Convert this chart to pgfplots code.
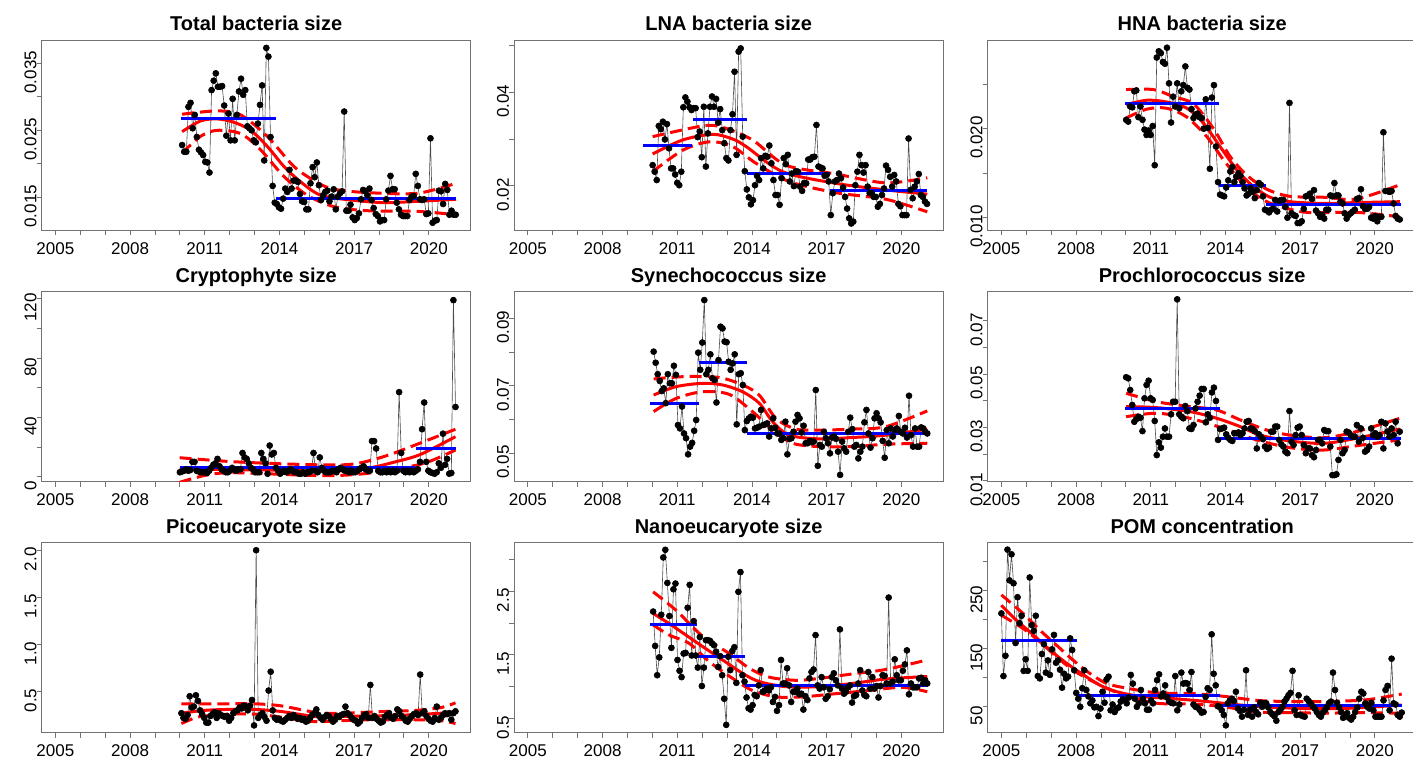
\documentclass[border=0pt]{standalone}
\usepackage{pgfplots}
\pgfplotsset{compat=1.18}
\usepackage{pgfplotstable}
\usepackage{fontspec}
\setmainfont{Liberation Sans}

\pgfplotsset{
  rp/.style={width=429pt, height=190pt, scale only axis, anchor=south west,
    xmin=2004.45, xmax=2021.68,
    axis line style={black!55, line width=0.9pt},
    tick style={black!55, line width=0.9pt},
    major tick length=5pt, tick align=outside, tick pos=left,
    xtick={2005,...,2020},
    xticklabels={2005,,,2008,,,2011,,,2014,,,2017,,,2020},
    ticklabel style={font=\fontsize{17}{17}\selectfont, inner sep=0pt},
    xticklabel style={anchor=north, yshift=-7pt},
    yticklabel style={rotate=90, anchor=south, xshift=-9pt},
    scaled ticks=false,
    title style={font=\bfseries\fontsize{20}{20}\selectfont, at={(0.5,1)}, anchor=base, yshift=3pt, inner sep=0pt}},
  pts/.style={black!70, line width=0.6pt, mark=*, mark size=3pt, mark options={black, fill=black, solid}},
  fit/.style={red, line width=3pt, smooth},
  ci/.style={red, line width=3pt, smooth, dash pattern=on 12pt off 6pt},
  seg/.style={blue, line width=3pt},
}

% monthly series, one value per row
\pgfplotstableread[row sep=\\]{y\\
0.0228\\0.0218\\0.0218\\0.0285\\0.0291\\0.0253\\0.0273\\0.0240\\0.0221\\0.0217\\0.0213\\0.0203\\0.0202\\0.0187\\0.0310\\0.0324\\0.0335\\0.0315\\0.0315\\0.0316\\0.0287\\0.0242\\0.0275\\0.0235\\0.0297\\0.0235\\0.0273\\0.0308\\0.0327\\0.0303\\0.0310\\0.0256\\0.0253\\0.0250\\0.0235\\0.0232\\0.0260\\0.0288\\0.0317\\0.0205\\0.0373\\0.0360\\0.0240\\0.0167\\0.0142\\0.0140\\0.0135\\0.0133\\0.0148\\0.0163\\0.0158\\0.0191\\0.0163\\0.0175\\0.0175\\0.0173\\0.0155\\0.0144\\0.0143\\0.0132\\0.0132\\0.0171\\0.0195\\0.0180\\0.0202\\0.0168\\0.0146\\0.0153\\0.0158\\0.0160\\0.0144\\0.0151\\0.0162\\0.0132\\0.0151\\0.0156\\0.0159\\0.0278\\0.0130\\0.0130\\0.0139\\0.0120\\0.0116\\0.0119\\0.0126\\0.0147\\0.0161\\0.0159\\0.0153\\0.0163\\0.0146\\0.0134\\0.0125\\0.0122\\0.0114\\0.0116\\0.0116\\0.0147\\0.0160\\0.0182\\0.0162\\0.0162\\0.0142\\0.0132\\0.0124\\0.0122\\0.0122\\0.0122\\0.0146\\0.0151\\0.0152\\0.0185\\0.0167\\0.0147\\0.0146\\0.0147\\0.0125\\0.0126\\0.0238\\0.0112\\0.0115\\0.0116\\0.0160\\0.0159\\0.0140\\0.0170\\0.0161\\0.0124\\0.0130\\0.0124\\0.0124\\
}\tA
\pgfplotstableread[row sep=\\]{y\\
0.0244\\0.0230\\0.0212\\0.0328\\0.0321\\0.0337\\0.0299\\0.0332\\0.0280\\0.0237\\0.0237\\0.0224\\0.0206\\0.0201\\0.0230\\0.0368\\0.0389\\0.0380\\0.0368\\0.0362\\0.0366\\0.0366\\0.0304\\0.0316\\0.0261\\0.0369\\0.0241\\0.0312\\0.0369\\0.0391\\0.0369\\0.0386\\0.0335\\0.0364\\0.0319\\0.0291\\0.0259\\0.0254\\0.0319\\0.0353\\0.0444\\0.0266\\0.0487\\0.0494\\0.0305\\0.0231\\0.0192\\0.0175\\0.0160\\0.0169\\0.0201\\0.0221\\0.0212\\0.0259\\0.0237\\0.0264\\0.0262\\0.0286\\0.0248\\0.0212\\0.0180\\0.0180\\0.0159\\0.0216\\0.0259\\0.0246\\0.0266\\0.0209\\0.0226\\0.0199\\0.0231\\0.0230\\0.0198\\0.0189\\0.0206\\0.0205\\0.0256\\0.0256\\0.0261\\0.0262\\0.0330\\0.0241\\0.0239\\0.0237\\0.0221\\0.0223\\0.0209\\0.0137\\0.0184\\0.0209\\0.0212\\0.0226\\0.0216\\0.0196\\0.0176\\0.0151\\0.0130\\0.0119\\0.0123\\0.0201\\0.0230\\0.0266\\0.0244\\0.0228\\0.0244\\0.0198\\0.0184\\0.0184\\0.0176\\0.0176\\0.0155\\0.0161\\0.0180\\0.0194\\0.0243\\0.0234\\0.0219\\0.0198\\0.0223\\0.0209\\0.0161\\0.0156\\0.0137\\0.0137\\0.0137\\0.0301\\0.0191\\0.0173\\0.0198\\0.0209\\0.0225\\0.0180\\0.0176\\0.0166\\0.0161\\
}\tB
\pgfplotstableread[row sep=\\]{y\\
0.0210\\0.0208\\0.0225\\0.0224\\0.0242\\0.0243\\0.0213\\0.0225\\0.0210\\0.0199\\0.0193\\0.0198\\0.0193\\0.0203\\0.0159\\0.0280\\0.0287\\0.0285\\0.0275\\0.0273\\0.0291\\0.0251\\0.0207\\0.0236\\0.0225\\0.0251\\0.0223\\0.0242\\0.0249\\0.0270\\0.0246\\0.0244\\0.0222\\0.0212\\0.0216\\0.0217\\0.0213\\0.0212\\0.0200\\0.0233\\0.0201\\0.0155\\0.0235\\0.0249\\0.0180\\0.0140\\0.0126\\0.0125\\0.0124\\0.0134\\0.0142\\0.0152\\0.0157\\0.0140\\0.0146\\0.0150\\0.0147\\0.0140\\0.0133\\0.0125\\0.0127\\0.0133\\0.0129\\0.0122\\0.0131\\0.0139\\0.0137\\0.0124\\0.0109\\0.0108\\0.0106\\0.0109\\0.0110\\0.0120\\0.0107\\0.0119\\0.0120\\0.0120\\0.0112\\0.0100\\0.0229\\0.0105\\0.0103\\0.0102\\0.0094\\0.0094\\0.0096\\0.0110\\0.0124\\0.0125\\0.0127\\0.0121\\0.0131\\0.0108\\0.0105\\0.0101\\0.0103\\0.0099\\0.0109\\0.0109\\0.0125\\0.0124\\0.0139\\0.0125\\0.0125\\0.0118\\0.0116\\0.0105\\0.0099\\0.0103\\0.0105\\0.0107\\0.0109\\0.0121\\0.0122\\0.0132\\0.0113\\0.0110\\0.0110\\0.0112\\0.0100\\0.0099\\0.0102\\0.0096\\0.0101\\0.0101\\0.0196\\0.0130\\0.0130\\0.0129\\0.0130\\0.0116\\0.0102\\0.0099\\0.0098\\
}\tC
\pgfplotstableread[row sep=\\]{y\\
3\\3.5\\4\\5\\4\\4.5\\10\\10\\4\\3.5\\3\\3\\
3\\2.5\\4\\6\\8\\9\\12\\7\\5\\4\\3\\3\\
4\\6\\5\\4\\5\\5\\16\\13\\12\\9\\6\\5\\
3\\3\\3\\16\\12\\9\\2\\21\\15\\16\\6\\4\\
2\\3\\4\\3\\4\\5\\4\\3\\3\\2\\2\\3\\
2\\3\\3\\4\\16\\4\\3\\13\\6\\4\\3\\3\\
3\\4\\4\\3\\5\\6\\5\\4\\4\\3\\4\\3\\
3\\4\\5\\6\\7\\5\\4\\4\\24\\24\\19\\4\\
3\\3\\4\\3\\4\\3\\4\\3\\4\\57\\16\\4\\
3\\4\\3\\4\\3\\4\\5\\10\\32\\50\\10\\4\\
3\\2.5\\2\\3\\9\\6\\29\\8\\12\\2\\2.5\\119\\
47\\
}\tD
\pgfplotstableread[row sep=\\]{y\\
0.0801\\0.0768\\0.0734\\0.0714\\0.0684\\0.0692\\0.0648\\0.0734\\0.0707\\0.0707\\0.0759\\0.0732\\0.0583\\0.0573\\0.0638\\0.0558\\0.0544\\0.0496\\0.0519\\0.0530\\0.0566\\0.0598\\0.0798\\0.0747\\0.0828\\0.0954\\0.0734\\0.0747\\0.0793\\0.0722\\0.0717\\0.0650\\0.0776\\0.0875\\0.0870\\0.0831\\0.0829\\0.0771\\0.0747\\0.0766\\0.0793\\0.0585\\0.0734\\0.0737\\0.0702\\0.0568\\0.0595\\0.0603\\0.0608\\0.0605\\0.0573\\0.0575\\0.0578\\0.0628\\0.0583\\0.0585\\0.0588\\0.0549\\0.0573\\0.0603\\0.0575\\0.0558\\0.0558\\0.0539\\0.0544\\0.0593\\0.0496\\0.0542\\0.0544\\0.0563\\0.0593\\0.0613\\0.0603\\0.0561\\0.0581\\0.0529\\0.0529\\0.0536\\0.0532\\0.0534\\0.0687\\0.0462\\0.0524\\0.0519\\0.0563\\0.0544\\0.0529\\0.0499\\0.0546\\0.0549\\0.0542\\0.0504\\0.0435\\0.0534\\0.0514\\0.0504\\0.0563\\0.0605\\0.0571\\0.0519\\0.0524\\0.0484\\0.0504\\0.0519\\0.0591\\0.0628\\0.0558\\0.0516\\0.0544\\0.0603\\0.0618\\0.0603\\0.0591\\0.0536\\0.0486\\0.0568\\0.0529\\0.0573\\0.0549\\0.0568\\0.0573\\0.0610\\0.0563\\0.0558\\0.0575\\0.0546\\0.0670\\0.0553\\0.0519\\0.0573\\0.0519\\0.0519\\0.0576\\0.0573\\0.0563\\0.0558\\
}\tE
\pgfplotstableread[row sep=\\]{y\\
0.0488\\0.0484\\0.0440\\0.0384\\0.0321\\0.0331\\0.0340\\0.0336\\0.0286\\0.0409\\0.0459\\0.0475\\0.0409\\0.0403\\0.0324\\0.0196\\0.0244\\0.0224\\0.0265\\0.0296\\0.0265\\0.0265\\0.0349\\0.0396\\0.0396\\0.0780\\0.0349\\0.0340\\0.0334\\0.0380\\0.0361\\0.0296\\0.0294\\0.0309\\0.0371\\0.0396\\0.0419\\0.0444\\0.0444\\0.0319\\0.0349\\0.0336\\0.0431\\0.0449\\0.0399\\0.0253\\0.0294\\0.0296\\0.0299\\0.0274\\0.0261\\0.0253\\0.0249\\0.0278\\0.0278\\0.0281\\0.0271\\0.0278\\0.0296\\0.0321\\0.0324\\0.0296\\0.0294\\0.0286\\0.0221\\0.0274\\0.0265\\0.0256\\0.0228\\0.0219\\0.0224\\0.0284\\0.0284\\0.0303\\0.0303\\0.0253\\0.0236\\0.0228\\0.0209\\0.0203\\0.0361\\0.0246\\0.0234\\0.0271\\0.0299\\0.0303\\0.0271\\0.0234\\0.0203\\0.0221\\0.0221\\0.0196\\0.0188\\0.0215\\0.0253\\0.0253\\0.0240\\0.0290\\0.0286\\0.0286\\0.0228\\0.0121\\0.0121\\0.0124\\0.0178\\0.0253\\0.0203\\0.0215\\0.0284\\0.0281\\0.0271\\0.0265\\0.0265\\0.0309\\0.0246\\0.0296\\0.0261\\0.0209\\0.0215\\0.0228\\0.0296\\0.0271\\0.0278\\0.0265\\0.0271\\0.0321\\0.0221\\0.0315\\0.0284\\0.0265\\0.0296\\0.0271\\0.0321\\0.0240\\0.0284\\
}\tF
\pgfplotstableread[row sep=\\]{y\\
0.27\\0.22\\0.21\\0.25\\0.45\\0.33\\0.34\\0.46\\0.40\\0.30\\0.26\\0.22\\
0.17\\0.17\\0.24\\0.26\\0.28\\0.22\\0.27\\0.25\\0.24\\0.23\\0.24\\0.19\\
0.22\\0.27\\0.29\\0.30\\0.33\\0.32\\0.35\\0.34\\0.30\\0.35\\0.41\\0.14\\
2.0\\0.22\\0.25\\0.27\\0.23\\0.19\\0.51\\0.71\\0.30\\0.22\\0.20\\0.21\\
0.19\\0.18\\0.20\\0.22\\0.24\\0.22\\0.25\\0.23\\0.21\\0.22\\0.20\\0.21\\
0.18\\0.19\\0.22\\0.25\\0.27\\0.31\\0.25\\0.22\\0.20\\0.23\\0.25\\0.24\\
0.21\\0.18\\0.20\\0.24\\0.23\\0.25\\0.26\\0.34\\0.27\\0.25\\0.22\\0.20\\
0.19\\0.16\\0.18\\0.22\\0.25\\0.26\\0.22\\0.57\\0.22\\0.24\\0.21\\0.19\\
0.17\\0.18\\0.23\\0.25\\0.27\\0.22\\0.21\\0.24\\0.31\\0.29\\0.24\\0.22\\
0.19\\0.18\\0.21\\0.24\\0.26\\0.27\\0.25\\0.68\\0.27\\0.29\\0.24\\0.21\\
0.19\\0.18\\0.22\\0.34\\0.20\\0.22\\0.25\\0.27\\0.26\\0.27\\0.20\\0.27\\
0.29\\
}\tG
\pgfplotstableread[row sep=\\]{y\\
2.18\\1.64\\1.18\\1.46\\2.13\\3.03\\3.15\\2.63\\2.11\\1.61\\2.53\\2.62\\1.42\\1.25\\1.15\\1.52\\1.53\\2.24\\2.60\\1.49\\2.03\\1.49\\1.30\\1.78\\1.01\\1.30\\1.73\\1.73\\1.72\\1.68\\1.65\\1.55\\1.31\\1.48\\1.18\\0.81\\0.40\\1.47\\1.26\\1.56\\1.62\\1.06\\2.49\\2.80\\1.18\\1.08\\0.83\\0.66\\0.64\\0.71\\0.87\\0.85\\1.02\\1.26\\0.92\\0.94\\0.97\\0.94\\0.99\\0.76\\0.84\\0.62\\0.71\\1.42\\1.05\\1.05\\1.29\\1.02\\0.76\\0.92\\0.92\\0.97\\0.88\\0.89\\0.64\\0.85\\0.79\\1.13\\1.23\\1.27\\1.81\\1.02\\0.97\\1.15\\0.99\\0.81\\0.85\\0.96\\1.15\\1.21\\1.10\\1.02\\1.90\\0.97\\0.89\\0.92\\0.99\\1.02\\0.75\\0.85\\0.87\\1.05\\1.26\\0.94\\0.87\\0.85\\1.23\\0.97\\1.15\\0.97\\1.01\\0.83\\1.01\\1.18\\1.17\\1.05\\2.40\\1.05\\1.08\\1.43\\1.18\\1.10\\1.10\\1.25\\1.35\\1.57\\0.88\\1.05\\0.99\\0.99\\0.99\\1.13\\1.14\\1.05\\1.10\\1.05\\
}\tH
\pgfplotstableread[row sep=\\]{y\\
211\\103\\138\\321\\268\\313\\263\\160\\239\\194\\207\\112\\132\\112\\273\\191\\181\\207\\103\\99\\141\\158\\109\\130\\105\\149\\174\\126\\130\\114\\83\\107\\99\\102\\168\\148\\113\\74\\64\\50\\82\\113\\79\\68\\56\\61\\49\\50\\34\\47\\76\\57\\97\\102\\44\\54\\41\\47\\49\\59\\63\\61\\56\\66\\105\\90\\64\\50\\56\\79\\64\\56\\45\\45\\61\\56\\79\\96\\106\\68\\73\\87\\66\\59\\57\\56\\103\\44\\54\\109\\90\\91\\90\\79\\110\\54\\50\\49\\45\\40\\41\\67\\82\\79\\175\\107\\87\\51\\50\\44\\36\\18\\56\\61\\64\\60\\76\\47\\43\\33\\45\\113\\36\\45\\33\\49\\41\\37\\57\\50\\56\\56\\49\\41\\37\\34\\26\\41\\45\\50\\59\\64\\70\\74\\112\\44\\36\\70\\36\\34\\33\\64\\60\\56\\51\\47\\41\\36\\33\\40\\44\\49\\56\\59\\109\\79\\57\\49\\41\\31\\33\\39\\31\\28\\33\\41\\49\\64\\76\\73\\56\\50\\47\\57\\44\\33\\33\\33\\33\\61\\79\\86\\44\\133\\56\\54\\36\\33\\40\\
}\tI

% spacing of the monthly samples between first and last date
\newcommand\mkstep[4]{\pgfplotstablegetrowsof{#1}\pgfmathsetmacro#2{(#4-#3)/(\pgfplotsretval-1)}}
\mkstep{\tA}{\sA}{2010.09}{2021.08}
\mkstep{\tB}{\sB}{2010.01}{2021.03}
\mkstep{\tC}{\sC}{2010.01}{2021.00}
\mkstep{\tD}{\sD}{2010.00}{2021.07}
\mkstep{\tE}{\sE}{2010.05}{2021.04}
\mkstep{\tF}{\sF}{2010.01}{2021.00}
\mkstep{\tG}{\sG}{2010.06}{2021.07}
\mkstep{\tH}{\sH}{2010.03}{2021.04}
\mkstep{\tI}{\sI}{2005.00}{2021.08}

\begin{document}
\begin{tikzpicture}
\path[use as bounding box] (0,0) rectangle (1413pt,758pt);

% ---- row 1
\begin{axis}[rp, at={(41.7pt,528pt)}, title={Total bacteria size},
  ymin=0.01012, ymax=0.03848,
  ytick={0.015,0.02,0.025,0.03,0.035}, yticklabels={0.015,,0.025,,0.035}]
\addplot[pts] table[x expr={2010.09+\coordindex*\sA}, y=y]{\tA};
\addplot[fit] coordinates {(2010.09,0.0248) (2010.83,0.0264) (2011.50,0.0267) (2012.17,0.0262) (2012.84,0.0250) (2013.51,0.0226) (2014.18,0.0196) (2014.85,0.0173) (2015.66,0.0153) (2016.86,0.0146) (2018.20,0.0142) (2019.54,0.0144) (2021.09,0.0147)};
\addplot[ci] coordinates {(2010.09,0.0274) (2011.50,0.0279) (2012.44,0.0273) (2013.51,0.0241) (2014.58,0.0196) (2015.52,0.0172) (2016.19,0.0162) (2017.53,0.0157) (2019.54,0.0156) (2021.09,0.0171)};
\addplot[ci] coordinates {(2010.09,0.0216) (2010.83,0.0241) (2011.50,0.0250) (2012.44,0.0245) (2013.24,0.0221) (2014.18,0.0181) (2015.12,0.0153) (2016.19,0.0136) (2017.53,0.0130) (2019.54,0.0129) (2021.09,0.0124)};
\addplot[seg] coordinates {(2010.03,0.0268) (2013.85,0.0268)};
\addplot[seg] coordinates {(2013.85,0.0148) (2021.09,0.0148)};
\end{axis}

\begin{axis}[rp, at={(514.2pt,528pt)}, title={LNA bacteria size},
  ymin=0.01051, ymax=0.0512,
  ytick={0.02,0.03,0.04,0.05}, yticklabels={0.02,,0.04,}]
\addplot[pts] table[x expr={2010.01+\coordindex*\sB}, y=y]{\tB};
\addplot[fit] coordinates {(2010.01,0.0268) (2011.22,0.0298) (2012.42,0.0310) (2013.22,0.0300) (2013.76,0.0284) (2015.23,0.0230) (2017.37,0.0205) (2019.37,0.0191) (2021.04,0.0182)};
\addplot[ci] coordinates {(2010.01,0.0305) (2012.02,0.0328) (2012.82,0.0325) (2014.02,0.0298) (2015.36,0.0244) (2017.37,0.0225) (2019.37,0.0206) (2021.04,0.0217)};
\addplot[ci] coordinates {(2010.01,0.0230) (2011.22,0.0276) (2012.29,0.0294) (2013.22,0.0284) (2014.16,0.0248) (2015.49,0.0209) (2017.37,0.0185) (2019.37,0.0171) (2021.04,0.0144)};
\addplot[seg] coordinates {(2009.64,0.0285) (2011.59,0.0285)};
\addplot[seg] coordinates {(2011.62,0.0342) (2013.78,0.0342)};
\addplot[seg] coordinates {(2013.78,0.0226) (2017.13,0.0226)};
\addplot[seg] coordinates {(2017.13,0.0190) (2021.04,0.0190)};
\end{axis}

\begin{axis}[rp, at={(987.7pt,528pt)}, title={HNA bacteria size},
  ymin=0.00862, ymax=0.02997,
  ytick={0.01,0.015,0.02,0.025}, yticklabels={0.010,,0.020,}]
\addplot[pts] table[x expr={2010.01+\coordindex*\sC}, y=y]{\tC};
\addplot[fit] coordinates {(2010.01,0.0227) (2010.84,0.0232) (2011.64,0.0230) (2012.45,0.0223) (2013.12,0.0206) (2013.78,0.0180) (2014.45,0.0154) (2015.12,0.0135) (2015.79,0.0123) (2016.59,0.0118) (2017.93,0.0116) (2019.26,0.0117) (2021.0,0.0118)};
\addplot[ci] coordinates {(2010.01,0.0244) (2011.11,0.0244) (2011.91,0.0236) (2012.71,0.0228) (2013.52,0.0200) (2014.18,0.0169) (2014.85,0.0148) (2015.66,0.0132) (2016.59,0.0124) (2017.93,0.0123) (2019.26,0.0121) (2021.0,0.0137)};
\addplot[ci] coordinates {(2010.01,0.0212) (2010.84,0.0222) (2011.64,0.0223) (2012.45,0.0213) (2013.25,0.0191) (2013.92,0.0165) (2014.59,0.0142) (2015.25,0.0125) (2015.92,0.0115) (2017.26,0.0106) (2019.26,0.0106) (2021.0,0.0101)};
\addplot[seg] coordinates {(2009.97,0.0228) (2013.72,0.0228)};
\addplot[seg] coordinates {(2013.72,0.0136) (2015.63,0.0136)};
\addplot[seg] coordinates {(2015.63,0.0115) (2021.04,0.0115)};
\end{axis}

% ---- row 2
\begin{axis}[rp, at={(41.7pt,276.3pt)}, title={Cryptophyte size},
  ymin=-3.37, ymax=124.7,
  ytick={0,20,40,60,80,100,120}, yticklabels={0,,40,,80,,120}]
\addplot[pts] table[x expr={2010.00+\coordindex*\sD}, y=y]{\tD};
\addplot[fit] coordinates {(2009.99,5.2) (2013.48,4.5) (2016.17,3.8) (2017.51,5.6) (2018.58,9.7) (2019.66,15) (2021.07,27)};
\addplot[ci] coordinates {(2009.99,12.8) (2012.14,10.1) (2014.83,8.3) (2016.84,8.3) (2018.18,13.5) (2019.52,21.8) (2021.07,32)};
\addplot[ci] coordinates {(2009.99,-3.8) (2011.07,1.1) (2012.14,2.7) (2014.83,1.1) (2016.17,0.7) (2017.51,2.2) (2018.85,5.6) (2019.93,9.7) (2021.07,18)};
\addplot[seg] coordinates {(2009.99,6.1) (2019.46,6.1)};
\addplot[seg] coordinates {(2019.50,18.7) (2021.07,18.7)};
\end{axis}

\begin{axis}[rp, at={(514.2pt,276.3pt)}, title={Synechococcus size},
  ymin=0.04148, ymax=0.0979,
  ytick={0.05,0.06,0.07,0.08,0.09}, yticklabels={0.05,,0.07,,0.09}]
\addplot[pts] table[x expr={2010.05+\coordindex*\sE}, y=y]{\tE};
\addplot[fit] coordinates {(2010.05,0.0672) (2010.95,0.0697) (2012.02,0.0707) (2012.82,0.0702) (2013.62,0.0682) (2014.29,0.0648) (2014.83,0.0593) (2015.49,0.0553) (2016.70,0.0542) (2018.03,0.0546) (2019.37,0.0553) (2021.04,0.0571)};
\addplot[ci] coordinates {(2010.05,0.0720) (2011.35,0.0727) (2012.69,0.0724) (2013.62,0.0702) (2014.29,0.0672) (2014.96,0.0603) (2015.76,0.0571) (2016.70,0.0568) (2018.03,0.0571) (2019.37,0.0578) (2021.04,0.0625)};
\addplot[ci] coordinates {(2010.05,0.0623) (2010.95,0.0662) (2012.02,0.0682) (2013.09,0.0674) (2014.02,0.0623) (2014.83,0.0568) (2015.63,0.0529) (2016.70,0.0519) (2018.03,0.0519) (2019.37,0.0526) (2021.04,0.0529)};
\addplot[seg] coordinates {(2009.92,0.0648) (2011.88,0.0648)};
\addplot[seg] coordinates {(2011.88,0.0769) (2013.80,0.0769)};
\addplot[seg] coordinates {(2013.80,0.0558) (2021.08,0.0558)};
\end{axis}

\begin{axis}[rp, at={(987.7pt,276.3pt)}, title={Prochlorococcus size},
  ymin=0.00963, ymax=0.08087,
  ytick={0.01,0.02,0.03,0.04,0.05,0.06,0.07}, yticklabels={0.01,,0.03,,0.05,,0.07}]
\addplot[pts] table[x expr={2010.01+\coordindex*\sF}, y=y]{\tF};
\addplot[fit] coordinates {(2010.01,0.0378) (2011.24,0.0374) (2012.58,0.0359) (2013.65,0.0334) (2014.59,0.0303) (2015.39,0.0271) (2016.59,0.0249) (2017.93,0.0240) (2019.26,0.0259) (2021.0,0.0294)};
\addplot[ci] coordinates {(2010.01,0.0428) (2011.24,0.0396) (2012.58,0.0378) (2013.65,0.0365) (2014.59,0.0328) (2015.66,0.0290) (2016.59,0.0271) (2017.93,0.0261) (2019.26,0.0284) (2021.0,0.0334)};
\addplot[ci] coordinates {(2010.01,0.0340) (2011.24,0.0353) (2012.58,0.0334) (2013.92,0.0296) (2015.25,0.0253) (2016.59,0.0224) (2017.93,0.0215) (2019.26,0.0231) (2021.0,0.0253)};
\addplot[seg] coordinates {(2009.97,0.0369) (2013.78,0.0369)};
\addplot[seg] coordinates {(2013.78,0.0259) (2021.04,0.0259)};
\end{axis}

% ---- row 3
\begin{axis}[rp, at={(41.7pt,25.5pt)}, title={Picoeucaryote size},
  ymin=0.0648, ymax=2.082,
  ytick={0.5,1,1.5,2}, yticklabels={0.5,1.0,1.5,2.0}]
\addplot[pts] table[x expr={2010.06+\coordindex*\sG}, y=y]{\tG};
\addplot[fit] coordinates {(2010.06,0.27) (2011,0.30) (2012,0.31) (2013,0.31) (2014,0.29) (2015,0.25) (2015.6,0.23) (2016.5,0.235) (2017.5,0.24) (2018.5,0.245) (2019.5,0.255) (2020.5,0.27) (2021.07,0.28)};
\addplot[ci] coordinates {(2010.06,0.37) (2011,0.37) (2012,0.37) (2013,0.37) (2014,0.35) (2015,0.30) (2015.6,0.27) (2016.5,0.27) (2017.5,0.28) (2018.5,0.29) (2019.5,0.30) (2020.5,0.33) (2021.07,0.38)};
\addplot[ci] coordinates {(2010.06,0.16) (2010.6,0.22) (2011,0.24) (2012,0.26) (2013,0.26) (2014,0.23) (2015,0.19) (2015.6,0.18) (2016.5,0.19) (2017.5,0.20) (2018.5,0.20) (2019.5,0.20) (2020.5,0.19) (2021.07,0.16)};
\end{axis}

\begin{axis}[rp, at={(514.2pt,25.5pt)}, title={Nanoeucaryote size},
  ymin=0.280, ymax=3.265,
  ytick={0.5,1,1.5,2,2.5,3}, yticklabels={0.5,,1.5,,2.5,}]
\addplot[pts] table[x expr={2010.03+\coordindex*\sH}, y=y]{\tH};
\addplot[fit] coordinates {(2010.03,2.15) (2010.68,1.99) (2011.35,1.81) (2012.02,1.63) (2012.82,1.42) (2013.62,1.21) (2014.29,1.08) (2015.36,1.00) (2016.70,1.00) (2018.03,1.05) (2019.37,1.12) (2021.04,1.16)};
\addplot[ci] coordinates {(2010.03,2.49) (2010.95,2.20) (2012.02,1.79) (2013.09,1.52) (2013.89,1.29) (2014.69,1.15) (2015.76,1.10) (2016.70,1.13) (2018.03,1.20) (2019.37,1.27) (2021.04,1.42)};
\addplot[ci] coordinates {(2010.03,1.97) (2010.68,1.81) (2011.48,1.68) (2012.29,1.39) (2013.22,1.13) (2014.02,0.94) (2014.96,0.84) (2016.03,0.84) (2017.37,0.89) (2018.70,0.94) (2020.04,0.99) (2021.04,0.92)};
\addplot[seg] coordinates {(2009.92,1.98) (2011.79,1.98)};
\addplot[seg] coordinates {(2011.79,1.47) (2013.70,1.47)};
\addplot[seg] coordinates {(2013.70,1.02) (2021.08,1.02)};
\end{axis}

\begin{axis}[rp, at={(987.7pt,25.5pt)}, title={POM concentration},
  ymin=5.7, ymax=333.3,
  ytick={50,100,150,200,250,300}, yticklabels={50,,150,,250,}]
\addplot[pts] table[x expr={2005.00+\coordindex*\sI}, y=y]{\tI};
\addplot[fit] coordinates {(2005.0,225) (2005.61,199) (2006.28,174) (2006.95,148) (2007.62,125) (2008.30,105) (2008.97,87) (2009.64,76) (2010.58,68) (2011.93,64) (2013.27,59) (2014.62,53) (2015.96,49) (2017.31,47) (2018.66,47) (2020.0,50) (2021.08,53)};
\addplot[ci] coordinates {(2005.0,243) (2005.87,211) (2006.55,182) (2007.22,156) (2007.89,130) (2008.57,107) (2009.24,90) (2010.05,82) (2011.26,74) (2012.60,73) (2013.95,68) (2015.29,61) (2016.64,59) (2017.98,59) (2019.33,61) (2020.0,64) (2021.08,72)};
\addplot[ci] coordinates {(2005.0,208) (2005.87,185) (2006.55,162) (2007.22,136) (2007.89,113) (2008.57,96) (2009.24,82) (2010.05,68) (2011.26,56) (2012.60,55) (2013.95,50) (2015.29,41) (2016.64,40) (2017.98,39) (2019.33,40) (2021.08,39)};
\addplot[seg] coordinates {(2005.0,164) (2008.03,164)};
\addplot[seg] coordinates {(2008.03,69) (2013.78,69)};
\addplot[seg] coordinates {(2013.78,52) (2021.1,52)};
\end{axis}
\end{tikzpicture}
\end{document}
